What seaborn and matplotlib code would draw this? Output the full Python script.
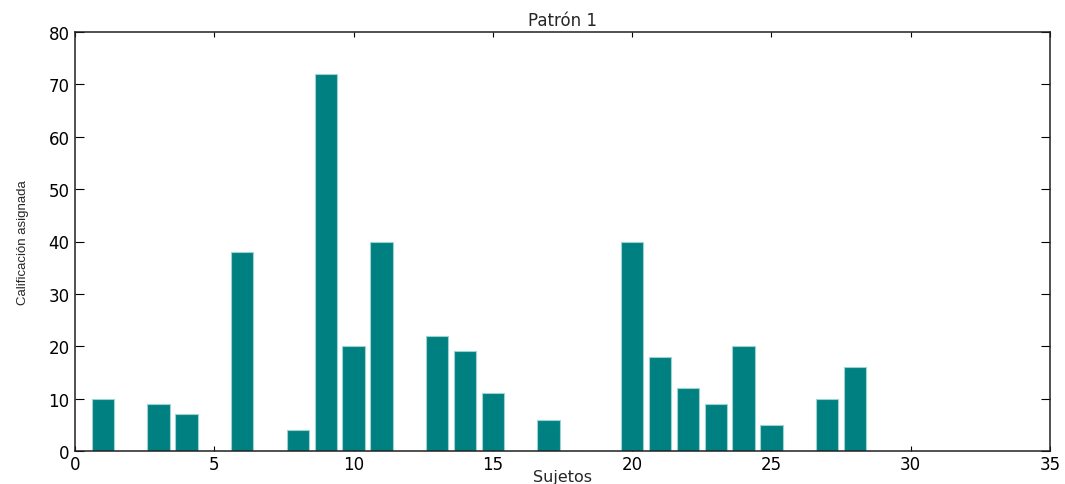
import numpy as np
import pandas as pd
import matplotlib
matplotlib.use("Agg")
import matplotlib.pyplot as plt
from matplotlib import font_manager
import seaborn as sns

# Scores assigned to each subject
sujetos = list(range(1, 29))
calificacion = [10, 0, 9, 7, 0, 38, 0, 4, 72, 20,
                40, 0, 22, 19, 11, 0, 6, 0, 0, 40,
                18, 12, 9, 20, 5, 0, 10, 16]
x_ticks = [0, 5, 10, 15, 20, 25, 30, 35]
y_ticks = [0, 10, 20, 30, 40, 50, 60, 70, 80]

sns.set_style("white")
plt.rcParams["font.family"] = ["DejaVu Sans"]

# condensed face for the vertical label when one is available
installed = {f.name for f in font_manager.fontManager.ttflist}
if "Liberation Sans Narrow" in installed:
    ylab_family, ylab_size = "Liberation Sans Narrow", 11.5
else:
    ylab_family, ylab_size = "Liberation Sans", 9.5

df = pd.DataFrame({"Sujetos": sujetos, "Calificacion": calificacion})

fig = plt.figure(figsize=(10.65, 4.85), dpi=100)
ax = fig.add_axes([75 / 1065, 1 - 452 / 485, 975 / 1065, 419 / 485])

sns.barplot(data=df, x="Sujetos", y="Calificacion", native_scale=True,
            width=0.8, color="#008080", saturation=1,
            edgecolor="#9fd3d3", linewidth=0.8, ax=ax)

ax.set_xlim(0, 35)
ax.set_ylim(0, 80)
ax.set_xticks(x_ticks)
ax.set_yticks(y_ticks)
ax.set_xticklabels([str(v) for v in x_ticks])
ax.set_yticklabels([str(v) for v in y_ticks])

for s in ax.spines.values():
    s.set_visible(True)
    s.set_color("#202020")
    s.set_linewidth(1.1)

ax.tick_params(axis="both", which="both", direction="in", top=True, right=True,
               bottom=True, left=True, labelsize=12, colors="black", width=0.8)
ax.tick_params(axis="y", length=6.5, pad=4)
ax.tick_params(axis="x", length=3.6, pad=3)

ax.set_title("Patrón 1", fontsize=12, pad=5)
ax.set_xlabel("Sujetos", fontsize=11.5, labelpad=-3)
ax.set_ylabel("Calificación asignada", fontsize=ylab_size,
              family=[ylab_family, "DejaVu Sans"], labelpad=14)
ax.grid(False)

fig.savefig("out.png", dpi=100)
